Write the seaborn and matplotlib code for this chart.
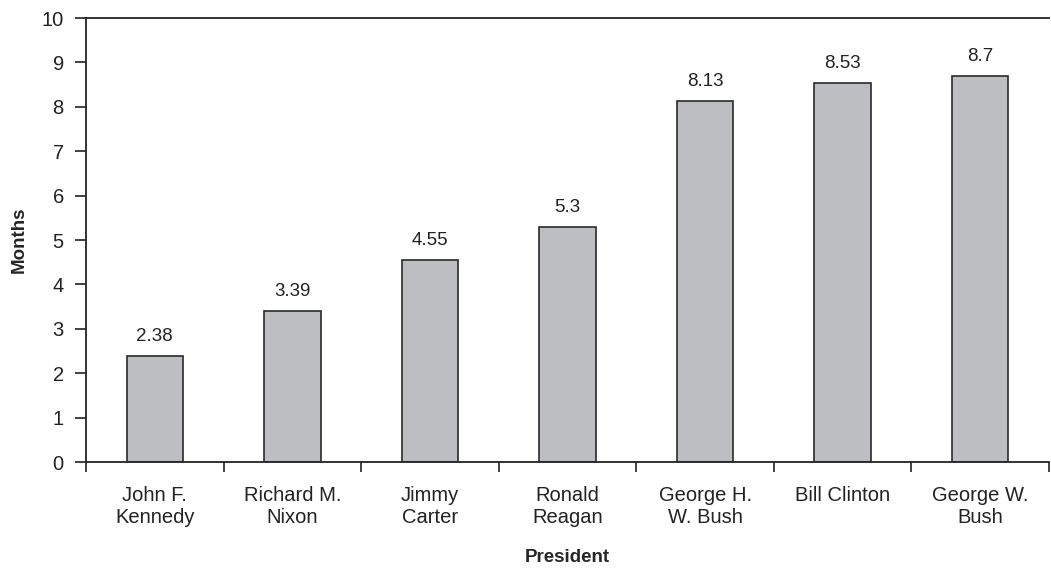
import matplotlib
matplotlib.use("Agg")
import matplotlib.pyplot as plt
import seaborn as sns
import pandas as pd
import numpy as np

presidents = ["John F.\nKennedy", "Richard M.\nNixon", "Jimmy\nCarter", "Ronald\nReagan",
              "George H.\nW. Bush", "Bill Clinton", "George W.\nBush"]
months = [2.38, 3.39, 4.55, 5.3, 8.13, 8.53, 8.7]
value_labels = ["2.38", "3.39", "4.55", "5.3", "8.13", "8.53", "8.7"]

sns.set_theme(style="white")
plt.rcParams["font.family"] = ["Liberation Sans", "DejaVu Sans"]
plt.rcParams["text.color"] = "#222222"

df = pd.DataFrame({"President": presidents, "Months": months})

fig = plt.figure(figsize=(10.51, 5.69), dpi=100)
ax = fig.add_axes([86 / 1051, 1 - 462 / 569, (1049 - 86) / 1051, (462 - 18) / 569])

sns.barplot(data=df, x="President", y="Months", color="#bdbec2", edgecolor="#2a2a2a",
            linewidth=1.2, width=0.41, saturation=1, ax=ax)

for i, (v, lab) in enumerate(zip(months, value_labels)):
    ax.annotate(lab, (i, v), xytext=(0, 8), textcoords="offset points",
                ha="center", va="bottom", fontsize=13.5, color="#222222")

ax.set_ylim(0, 10)
ax.set_xlim(-0.5, len(presidents) - 0.5)
ax.set_yticks(np.arange(0, 11, 1))
ax.tick_params(axis="y", which="major", direction="out", length=8, width=1.2,
               color="#222222", labelsize=14.5, labelcolor="#222222", pad=8, left=True)
ax.set_xticks(np.arange(-0.5, len(presidents), 1), minor=True)
ax.tick_params(axis="x", which="major", length=0, labelsize=14.5, labelcolor="#222222", pad=17)
ax.tick_params(axis="x", which="minor", direction="out", length=7, width=1.2,
               color="#222222", bottom=True)

for side in ["left", "bottom", "top"]:
    ax.spines[side].set_visible(True)
    ax.spines[side].set_color("#222222")
    ax.spines[side].set_linewidth(1.3)
ax.spines["right"].set_visible(False)

ax.set_ylabel("Months", fontsize=13.5, fontweight="bold", labelpad=10)
ax.set_xlabel("President", fontsize=13.5, fontweight="bold", labelpad=16)

fig.savefig("out.png", dpi=100)
